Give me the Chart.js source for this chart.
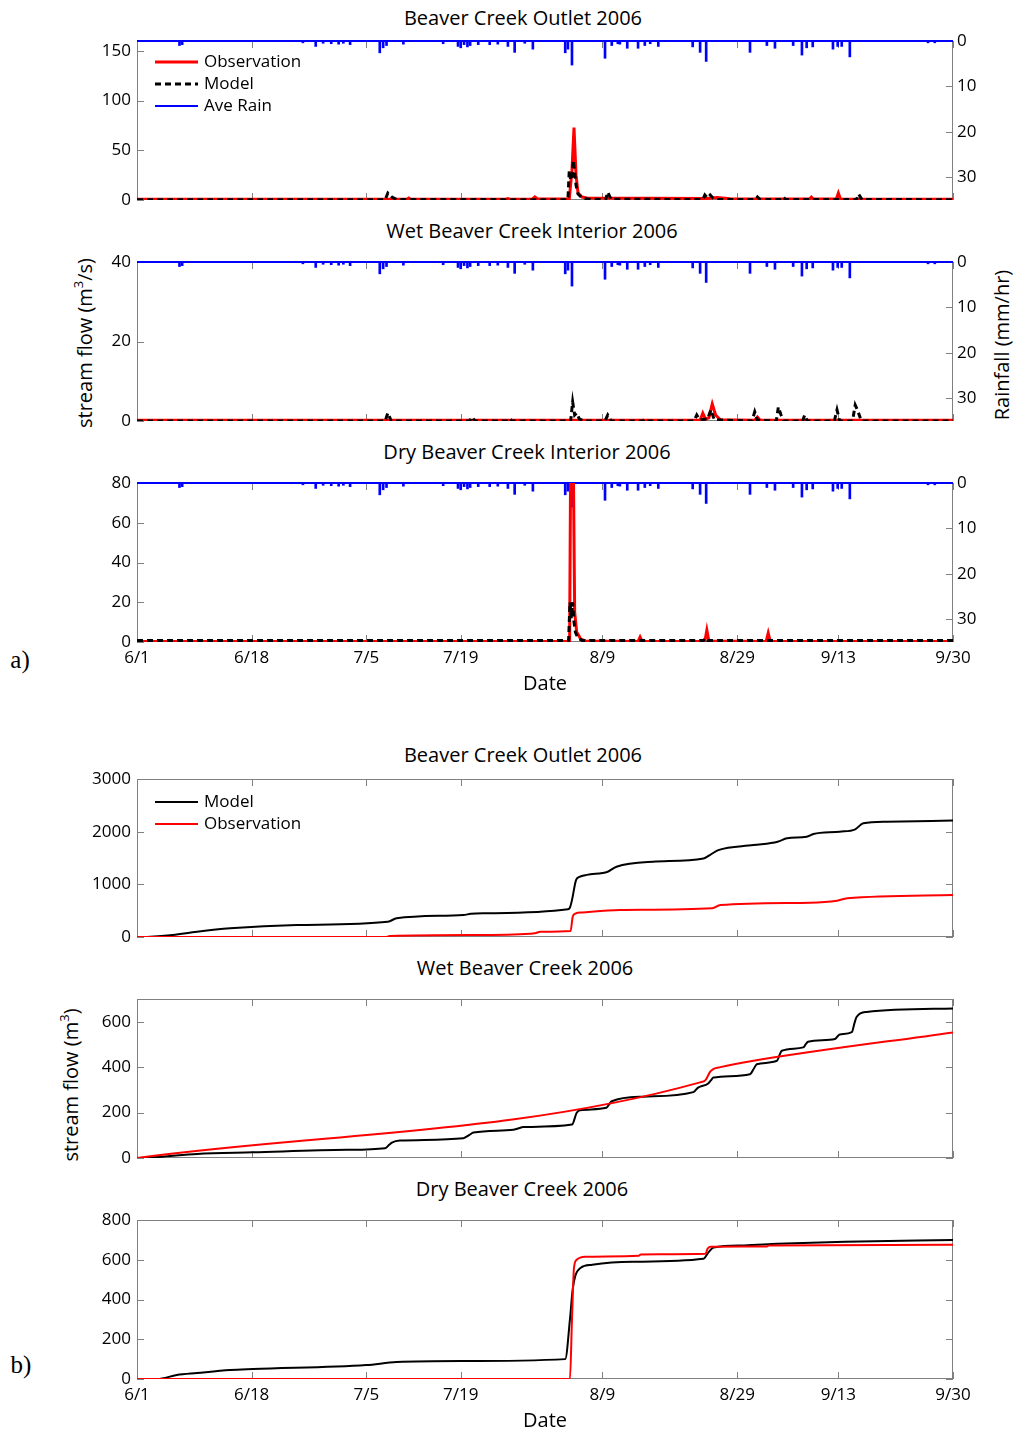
<!DOCTYPE html>
<html>
<head>
<meta charset="utf-8">
<script src="https://cdn.jsdelivr.net/npm/chart.js@4.4.0/dist/chart.umd.min.js"></script>
<style>
  body { margin: 0; background: #fff; }
  #page { position: relative; width: 1015px; height: 1435px; font-family: "Open Sans", sans-serif; color: #000; overflow: hidden; }
  #page canvas { position: absolute; left: 0; }
  .t { position: absolute; white-space: nowrap; transform: translate(-50%, -50%); font-size: 20px; }
  .rot { transform: translate(-50%, -50%) rotate(-90deg); }
  .lbl { position: absolute; font-family: "Liberation Serif", serif; font-size: 25px; transform: translate(-50%, -50%); }
  sup { font-size: 13px; vertical-align: 9px; line-height: 0; }
</style>
</head>
<body>
<div id="page">
  <div class="t" style="left:523px;top:17px">Beaver Creek Outlet 2006</div>
  <div class="t" style="left:532px;top:230px">Wet Beaver Creek Interior 2006</div>
  <div class="t" style="left:527px;top:451px">Dry Beaver Creek Interior 2006</div>
  <div class="t" style="left:523px;top:754px">Beaver Creek Outlet 2006</div>
  <div class="t" style="left:525px;top:967px">Wet Beaver Creek 2006</div>
  <div class="t" style="left:522px;top:1188px">Dry Beaver Creek 2006</div>
  <div class="t rot" style="left:84px;top:343px">stream flow (m<sup>3</sup>/s)</div>
  <div class="t rot" style="left:1001px;top:345px">Rainfall (mm/hr)</div>
  <div class="t rot" style="left:70px;top:1085px">stream flow (m<sup>3</sup>)</div>
  <div class="lbl" style="left:20px;top:660px">a)</div>
  <div class="lbl" style="left:21px;top:1365px">b)</div>
  <canvas id="a1"></canvas>
  <canvas id="a2"></canvas>
  <canvas id="a3"></canvas>
  <canvas id="b1"></canvas>
  <canvas id="b2"></canvas>
  <canvas id="b3"></canvas>
</div>
<script>
// x axis: days after 6/1
const dayTicks = [0, 17, 34, 48, 69, 89, 104, 121];
const dateLabels = ['6/1', '6/18', '7/5', '7/19', '8/9', '8/29', '9/13', '9/30'];
const rainTicks = [0, 10, 20, 30];

// average rain (mm/hr), plotted hanging from the top on a reversed axis
const rainDay = [6.3, 6.7, 24.6, 26.5, 27.6, 28.8, 29.9, 30.6, 31.6, 36.0, 36.5, 37.0, 39.5, 45.4, 47.6, 48.0, 48.5, 49.0, 49.4,
  50.6, 52.3, 53.5, 55.0, 56.0, 57.5, 58.7, 63.5, 63.9, 64.5, 69.4, 70.4, 71.3, 71.6, 72.7, 74.3, 75.3, 76.1, 77.3,
  82.4, 83.5, 84.4, 90.9, 93.4, 94.6, 97.3, 98.6, 99.3, 100.2, 103.2, 103.9, 104.5, 105.7, 117.3, 118.3];
const rainMm = [1.0, 0.8, 0.4, 1.2, 0.5, 0.6, 0.7, 0.5, 0.8, 2.6, 1.5, 1.0, 0.7, 0.6, 1.2, 1.5, 0.8, 1.3, 1.0,
  0.8, 0.8, 0.7, 1.2, 2.5, 0.5, 1.8, 2.6, 1.8, 5.3, 3.8, 1.0, 0.6, 0.7, 1.6, 1.6, 1.0, 0.6, 1.2,
  1.3, 2.5, 4.5, 2.5, 1.0, 1.6, 1.0, 3.1, 1.5, 1.3, 1.8, 1.2, 1.2, 3.5, 0.4, 0.4];

// a) stream flow (m3/s)
const a1ObsDay = [0, 40, 40.3, 40.6, 54.7, 55, 55.3, 58.6, 59, 59.4, 64.1, 64.5, 64.8, 65.1, 65.4, 66, 66.7, 84.5, 86, 88, 99.7, 100, 100.3, 103.7, 104, 104.3, 121];
const a1ObsVal = [0.8, 0.8, 2, 0.8, 0.8, 1.5, 0.8, 0.8, 3, 1, 1, 30, 73, 25, 7, 3, 2, 1.5, 2.5, 1.2, 1, 3, 1, 1, 7, 1, 0.8];
const a1ModDay = [0, 36.8, 37.2, 37.8, 38.5, 63.9, 64.1, 64.3, 64.5, 64.7, 64.9, 65.1, 65.4, 66, 67, 69.5, 69.8, 70.3, 83.9, 84.2, 84.6, 85, 85.4, 86, 91.7, 92, 92.4, 95.5, 95.8, 96.2, 106.7, 107, 107.5, 121];
const a1ModVal = [0.3, 0.3, 7, 3, 0.5, 0.3, 30, 20, 22, 40, 28, 15, 6, 2, 0.8, 0.5, 8, 0.8, 0.5, 5, 2, 5, 2, 0.5, 0.5, 3, 0.5, 0.5, 3, 0.5, 0.5, 6, 0.5, 0.3];

const a2ObsDay = [0, 83.5, 83.9, 84.3, 84.8, 85.3, 85.8, 86.5, 91.6, 92, 92.4, 121];
const a2ObsVal = [0.2, 0.2, 2, 0.5, 0.8, 4.3, 1.5, 0.3, 0.2, 1, 0.2, 0.2];
const a2ModDay = [0, 36.8, 37.2, 37.7, 49.3, 49.7, 50.1, 55, 55.3, 55.6, 64.3, 64.6, 64.9, 65.2, 65.6, 66.3, 69.4, 69.8, 70.3, 75, 75.3, 75.6,
  82.6, 83, 83.4, 84.6, 85.1, 85.6, 91.2, 91.6, 92, 94.8, 95.1, 95.5, 95.9, 98.7, 99, 99.4, 103.4, 103.8, 104.2, 106.1, 106.5, 106.9, 107.4, 121];
const a2ModVal = [0, 0, 2, 0, 0, 1, 0, 0, 0.6, 0, 0, 4.8, 1.5, 2, 0.5, 0, 0, 1.5, 0, 0, 0.5, 0,
  0, 1.5, 0.3, 0.5, 2.8, 0.3, 0, 2.3, 0.2, 0, 3.5, 1.5, 0, 0, 1.5, 0, 0, 2.8, 0, 0, 4, 2.5, 0, 0];

const a3ObsDay = [0, 64.15, 64.3, 64.7, 64.9, 65.2, 65.8, 66.5, 74.3, 74.6, 74.9, 84.2, 84.5, 84.8, 93.3, 93.6, 93.9, 121];
const a3ObsVal = [0.3, 0.3, 90, 90, 15, 5, 1.5, 0.5, 0.3, 2.5, 0.3, 0.3, 6, 0.5, 0.3, 4.5, 0.3, 0.3];
const a3ModDay = [0, 64.0, 64.2, 64.4, 64.6, 64.8, 65.0, 65.4, 66, 84.0, 84.3, 84.6, 121];
const a3ModVal = [0.8, 0.8, 20, 12, 20, 10, 5, 2, 0.8, 0.8, 2, 0.8, 0.8];

// b) cumulative stream flow (m3)
const b1ModDay = [0, 2, 5.3, 8.9, 13.8, 23.7, 37.2, 38.5, 48.4, 49.5, 51.3, 63.9, 64.2, 64.5, 65.1, 65.6, 66.7, 69.8, 71.1, 76.5, 84, 85, 86.2, 91.4, 95, 96.4, 99.3, 100.3, 104.2, 106.5, 107.7, 111.2, 121];
const b1ModVal = [0, 5, 38, 100, 165, 228, 290, 355, 418, 440, 450, 525, 560, 700, 1080, 1140, 1180, 1240, 1335, 1430, 1490, 1560, 1650, 1745, 1810, 1875, 1905, 1955, 2000, 2045, 2160, 2190, 2210];
const b1ObsDay = [0, 37, 37.5, 51, 59, 59.8, 64.3, 64.6, 65, 66, 71.6, 85.3, 86.5, 99.8, 103.8, 105.3, 121];
const b1ObsVal = [0, 0, 20, 38, 70, 100, 115, 380, 445, 465, 513, 545, 608, 652, 690, 735, 797];

const b2ModDay = [0, 3, 8.9, 17.2, 31.1, 36.8, 37.4, 37.8, 39, 48.4, 49.3, 49.9, 55.8, 56.5, 57.3, 64.5, 65.2, 65.7, 69.6, 70.1, 70.4, 75.1,
  82.5, 83.2, 84.7, 85.1, 85.5, 90.9, 91.5, 91.9, 94.9, 95.3, 95.6, 98.8, 99.2, 99.5, 103.5, 104.2, 106, 106.4, 106.7, 108.2, 121];
const b2ModVal = [0, 4, 18, 25, 36, 43, 58, 68, 77, 87, 102, 112, 124, 130, 136, 147, 199, 210, 221, 240, 250, 270,
  290, 310, 328, 342, 354, 369, 395, 413, 428, 455, 472, 487, 502, 512, 524, 544, 554, 595, 621, 643, 658];
const b2ObsDay = [0, 83.5, 84.3, 85, 85.5, 86.5, 91, 121];
const b2ObsVal = [0, 333, 343, 380, 392, 400, 426, 553];

const b3ModDay = [0, 3, 5.9, 8.9, 13.8, 17.2, 34, 38.5, 48, 63.5, 64.2, 64.6, 65, 65.8, 67.5, 73.5, 84, 84.8, 85.5, 90, 95, 105, 121];
const b3ModVal = [0, 0, 20, 30, 45, 50, 70, 85, 90, 100, 300, 450, 520, 560, 575, 590, 605, 640, 662, 672, 680, 690, 700];
const b3ObsDay = [0, 64.2, 64.5, 64.8, 65.2, 66.5, 74.4, 74.7, 84.3, 84.6, 85.0, 93.4, 93.7, 121];
const b3ObsVal = [0, 0, 300, 560, 600, 615, 620, 627, 630, 655, 665, 667, 672, 675];

Chart.defaults.font.family = '"Open Sans", sans-serif';
Chart.defaults.color = '#000';

function pts(days, vals) {
  return days.map((d, i) => ({ x: d, y: vals[i] }));
}

// box round the plot and inward ticks, like the original figure
const boxTicks = {
  id: 'boxTicks',
  beforeDatasetsDraw(chart) {
    const { ctx, chartArea: a, scales } = chart;
    const tl = 7;
    ctx.save();
    ctx.strokeStyle = '#808080';
    ctx.lineWidth = 1;
    ctx.strokeRect(a.left + 0.5, a.top + 0.5, a.right - a.left - 1, a.bottom - a.top - 1);
    ctx.beginPath();
    scales.x.ticks.forEach(t => {
      const px = Math.round(scales.x.getPixelForValue(t.value)) + 0.5;
      ctx.moveTo(px, a.bottom); ctx.lineTo(px, a.bottom - tl);
      ctx.moveTo(px, a.top); ctx.lineTo(px, a.top + tl);
    });
    scales.y.ticks.forEach(t => {
      const py = Math.round(scales.y.getPixelForValue(t.value)) + 0.5;
      ctx.moveTo(a.left, py); ctx.lineTo(a.left + tl, py);
      if (!scales.rain) { ctx.moveTo(a.right, py); ctx.lineTo(a.right - tl, py); }
    });
    if (scales.rain) {
      scales.rain.ticks.forEach(t => {
        const py = Math.round(scales.rain.getPixelForValue(t.value)) + 0.5;
        ctx.moveTo(a.right, py); ctx.lineTo(a.right - tl, py);
      });
    }
    ctx.stroke();
    ctx.restore();
  }
};

// legend drawn inside the plot area
const inLegend = {
  id: 'inLegend',
  afterDatasetsDraw(chart, args, opts) {
    if (!opts.items) return;
    const { ctx, chartArea: a } = chart;
    ctx.save();
    ctx.font = '17px "Open Sans"';
    ctx.textBaseline = 'middle';
    ctx.fillStyle = '#000';
    opts.items.forEach((lab, i) => {
      const ds = chart.data.datasets.find(d => d.label === lab);
      const x = a.left + opts.x;
      const y = a.top + opts.y + i * opts.gap;
      ctx.strokeStyle = ds.borderColor;
      ctx.lineWidth = ds.borderWidth;
      ctx.setLineDash(ds.borderDash || []);
      ctx.beginPath();
      ctx.moveTo(x, y);
      ctx.lineTo(x + 43, y);
      ctx.stroke();
      ctx.setLineDash([]);
      ctx.fillText(lab, x + 49, y);
    });
    ctx.restore();
  }
};

function rainSets() {
  return [
    { type: 'bar', label: 'rainBars', data: pts(rainDay, rainMm), yAxisID: 'rain', backgroundColor: '#0000ff',
      barThickness: 2, grouped: false, clip: false, order: 5 },
    { label: 'Ave Rain', data: pts([0, 121], [0, 0]), yAxisID: 'rain', borderColor: '#0000ff', borderWidth: 2,
      clip: false, order: 4 }
  ];
}

// keep the plot box where the figure has it: no extra room for end labels
function noPad(ax) {
  ax.paddingTop = 0;
  ax.paddingBottom = 0;
  ax.paddingLeft = 0;
  ax.paddingRight = 0;
}

function makePanel(id, plotTop, plotBottom, bottomAxis, yMax, yTicks, datasets, hasRain, legend) {
  const cv = document.getElementById(id);
  const xh = bottomAxis ? 54 : 10;
  cv.width = 1015;
  cv.height = (plotBottom - plotTop) + 10 + xh;
  cv.style.top = (plotTop - 10) + 'px';

  const scales = {
    x: {
      type: 'linear', min: 0, max: 121, offset: false,
      grid: { display: false, drawTicks: false }, border: { display: false },
      afterBuildTicks: ax => { ax.ticks = dayTicks.map(v => ({ value: v })); },
      ticks: { display: bottomAxis, padding: 6, font: { size: 17 }, maxRotation: 0, autoSkip: false,
        callback: (v, i) => dateLabels[i] },
      title: { display: bottomAxis, text: 'Date', font: { size: 20 }, padding: 0 },
      afterFit: ax => { ax.height = xh; noPad(ax); }
    },
    y: {
      position: 'left', min: 0, max: yMax,
      grid: { display: false, drawTicks: false }, border: { display: false },
      afterBuildTicks: ax => { ax.ticks = yTicks.map(v => ({ value: v })); },
      ticks: { padding: 6, font: { size: 17 }, callback: v => String(v) },
      afterFit: ax => { ax.width = 137; noPad(ax); }
    }
  };
  if (hasRain) {
    scales.rain = {
      position: 'right', min: 0, max: 35, reverse: true,
      grid: { display: false, drawTicks: false }, border: { display: false },
      afterBuildTicks: ax => { ax.ticks = rainTicks.map(v => ({ value: v })); },
      ticks: { padding: 4, font: { size: 17 }, callback: v => String(v) },
      afterFit: ax => { ax.width = 62; noPad(ax); }
    };
  }

  return new Chart(cv, {
    type: 'line',
    data: { datasets: hasRain ? datasets.concat(rainSets()) : datasets },
    options: {
      responsive: false,
      animation: false,
      devicePixelRatio: 1,
      layout: { autoPadding: false, padding: { top: 10, bottom: 0, left: 0, right: hasRain ? 0 : 62 } },
      elements: { point: { radius: 0 }, line: { tension: 0 } },
      scales: scales,
      plugins: {
        legend: { display: false },
        tooltip: { enabled: false },
        inLegend: legend || {}
      }
    },
    plugins: [boxTicks, inLegend]
  });
}

function flowSets(obsD, obsV, modD, modV) {
  return [
    { label: 'Model', data: pts(modD, modV), yAxisID: 'y', borderColor: '#000', borderWidth: 3, borderDash: [6, 4], order: 1 },
    { label: 'Observation', data: pts(obsD, obsV), yAxisID: 'y', borderColor: '#ff0000', borderWidth: 3, order: 2 }
  ];
}

function cumSets(obsD, obsV, modD, modV) {
  return [
    { label: 'Model', data: pts(modD, modV), yAxisID: 'y', borderColor: '#000', borderWidth: 2,
      cubicInterpolationMode: 'monotone', order: 2 },
    { label: 'Observation', data: pts(obsD, obsV), yAxisID: 'y', borderColor: '#ff0000', borderWidth: 2,
      cubicInterpolationMode: 'monotone', order: 1 }
  ];
}

makePanel('a1', 41, 200, false, 160, [0, 50, 100, 150], flowSets(a1ObsDay, a1ObsVal, a1ModDay, a1ModVal), true,
  { x: 18, y: 21, gap: 22, items: ['Observation', 'Model', 'Ave Rain'] });
makePanel('a2', 262, 421, false, 40, [0, 20, 40], flowSets(a2ObsDay, a2ObsVal, a2ModDay, a2ModVal), true);
makePanel('a3', 483, 642, true, 80, [0, 20, 40, 60, 80], flowSets(a3ObsDay, a3ObsVal, a3ModDay, a3ModVal), true);

makePanel('b1', 779, 937, false, 3000, [0, 1000, 2000, 3000], cumSets(b1ObsDay, b1ObsVal, b1ModDay, b1ModVal), false,
  { x: 18, y: 23, gap: 22, items: ['Model', 'Observation'] });
makePanel('b2', 999, 1158, false, 700, [0, 200, 400, 600], cumSets(b2ObsDay, b2ObsVal, b2ModDay, b2ModVal), false);
makePanel('b3', 1220, 1379, true, 800, [0, 200, 400, 600, 800], cumSets(b3ObsDay, b3ObsVal, b3ModDay, b3ModVal), false);
</script>
</body>
</html>
